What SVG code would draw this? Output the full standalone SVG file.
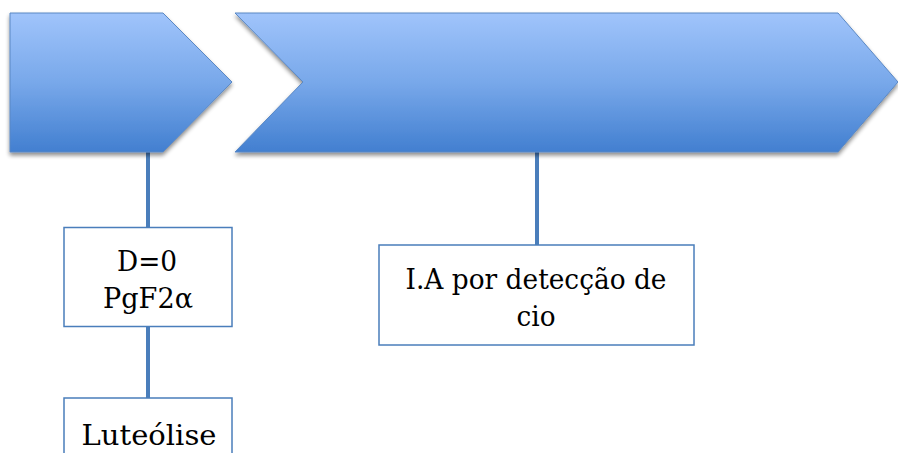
<svg xmlns="http://www.w3.org/2000/svg" width="898" height="453" viewBox="0 0 898 453">
<defs>
<linearGradient id="g" x1="0" y1="0" x2="0" y2="1">
<stop offset="0" stop-color="#a0c4fb"/>
<stop offset="0.5" stop-color="#78a8ea"/>
<stop offset="1" stop-color="#427fd0"/>
</linearGradient>
<filter id="sh" x="-5%" y="-10%" width="110%" height="130%">
<feGaussianBlur in="SourceAlpha" stdDeviation="2"/>
<feOffset dx="0" dy="3" result="b"/>
<feComponentTransfer><feFuncA type="linear" slope="0.45"/></feComponentTransfer>
<feMerge><feMergeNode/><feMergeNode in="SourceGraphic"/></feMerge>
</filter>
</defs>
<style>
.chev{fill:url(#g);stroke:#5a88c4;stroke-width:1;filter:url(#sh)}
.box{fill:#ffffff;stroke:#4a7ebb;stroke-width:1.5}
.con{stroke:#4a7ebb;stroke-width:4;fill:none}
.t{font-family:'DejaVu Serif',serif;font-size:27px;fill:#000;text-anchor:middle}
</style>
<g id="connectors">
<line class="con" x1="148" y1="150" x2="148" y2="228"/>
<line class="con" x1="148" y1="326" x2="148" y2="398"/>
<line class="con" x1="537" y1="150" x2="537" y2="245"/>
</g>
<g id="chevron1">
<polygon class="chev" points="10,13 163,13 232,82 163,152 10,152"/>
</g>
<g id="chevron2">
<polygon class="chev" points="235,13 838,13 898,82 838,152 235,152 303,82"/>
</g>
<g id="node-d0">
<rect class="box" x="64" y="227.5" width="168" height="99"/>
<text class="t" x="147" y="270.5" textLength="60" lengthAdjust="spacingAndGlyphs">D=0</text>
<text class="t" x="148" y="308" textLength="90" lengthAdjust="spacingAndGlyphs">PgF2α</text>
</g>
<g id="node-luteolise">
<rect class="box" x="64" y="398" width="168" height="70"/>
<text class="t" x="149" y="445" textLength="135" lengthAdjust="spacingAndGlyphs">Luteólise</text>
</g>
<g id="node-ia">
<rect class="box" x="379" y="245" width="315" height="100"/>
<text class="t" x="536" y="289" textLength="261" lengthAdjust="spacingAndGlyphs">I.A por detecção de</text>
<text class="t" x="536" y="326" textLength="39" lengthAdjust="spacingAndGlyphs">cio</text>
</g>
</svg>
